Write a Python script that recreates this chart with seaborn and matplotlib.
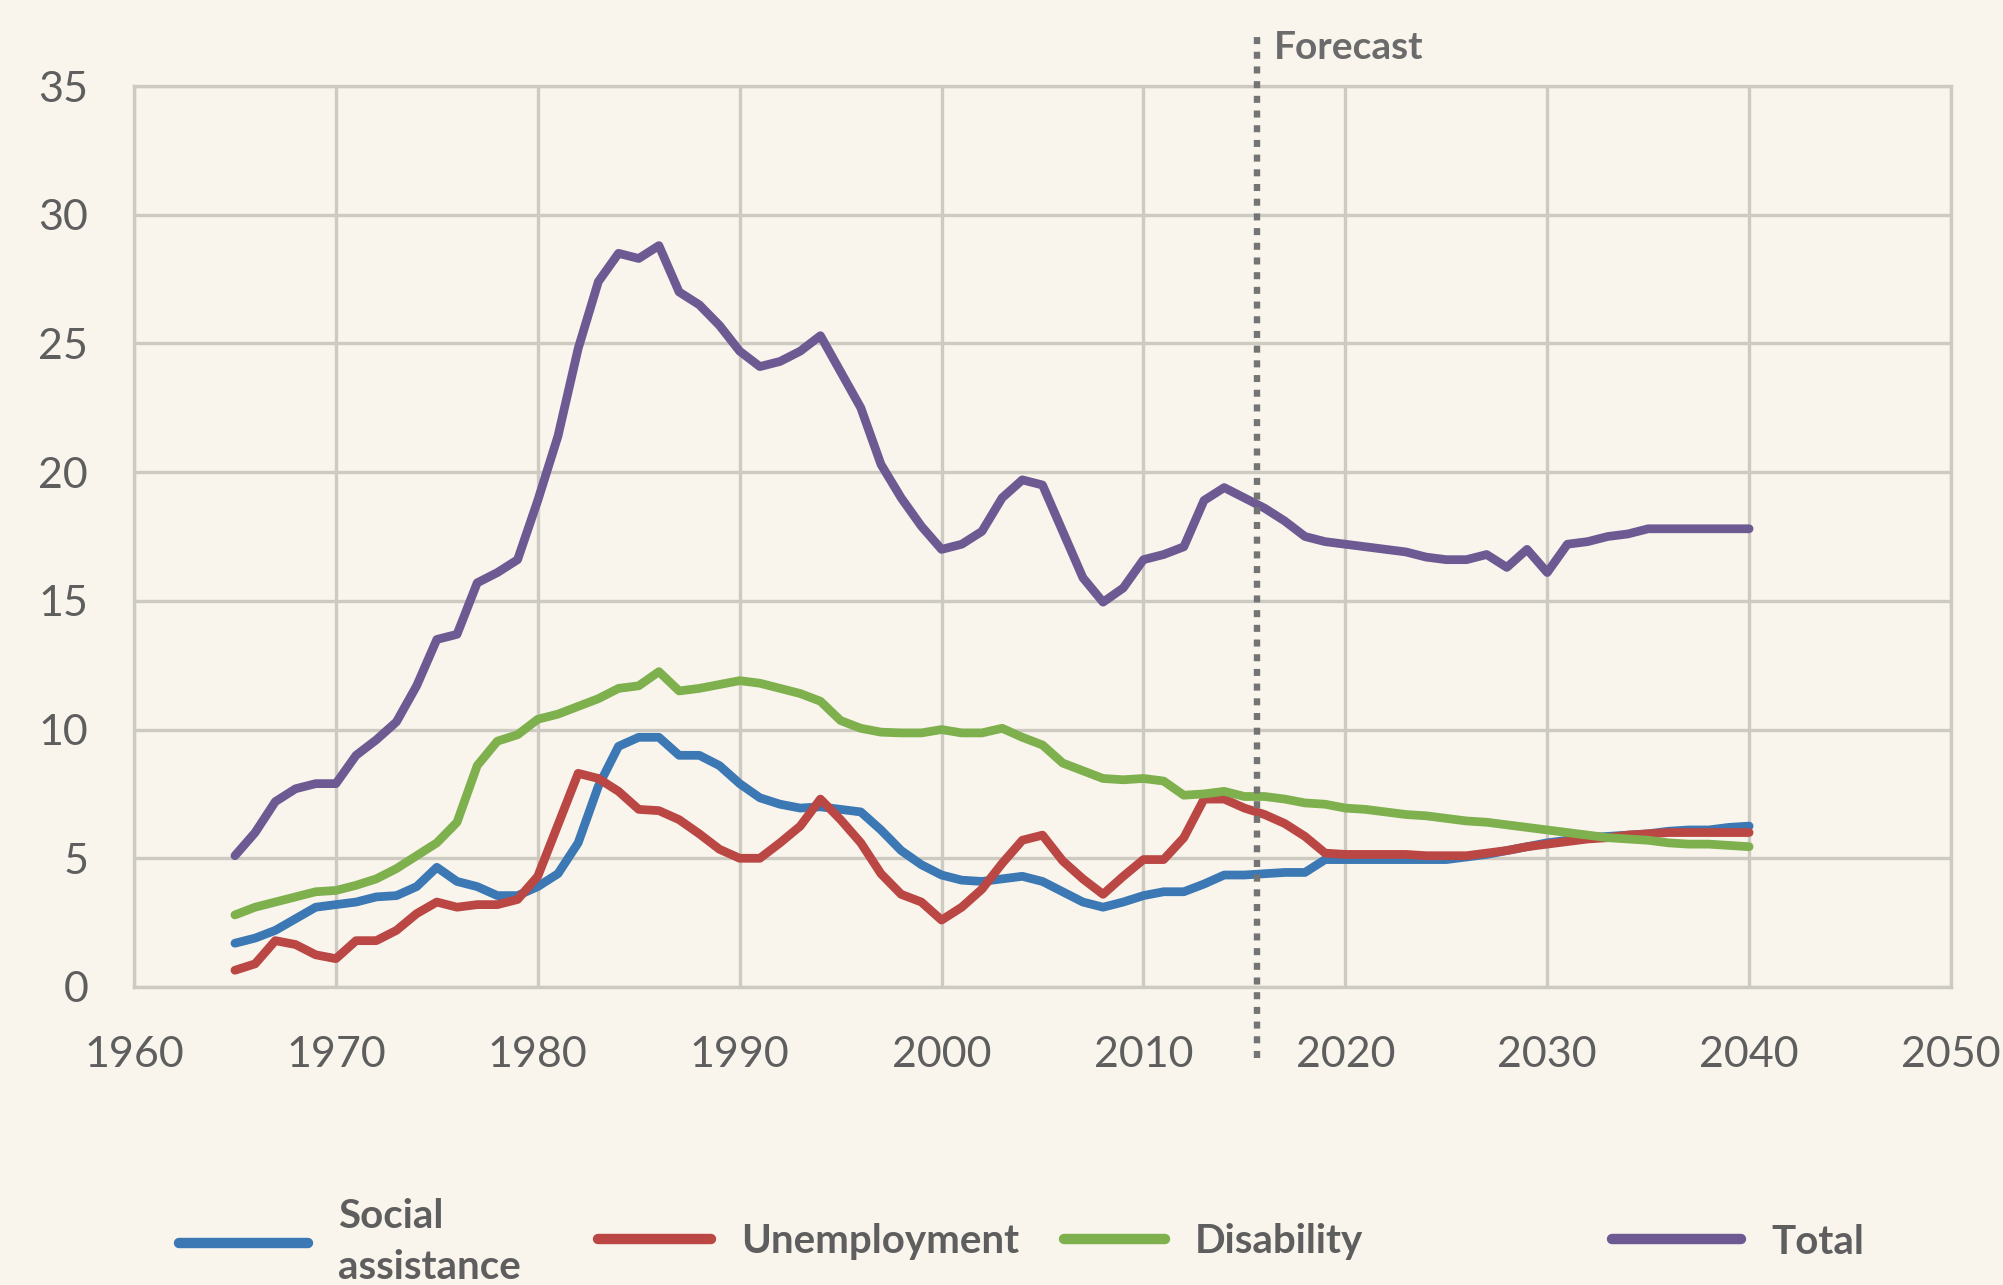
import pandas as pd
import matplotlib
matplotlib.use("Agg")
import matplotlib.pyplot as plt
import seaborn as sns

# data (share of population, %)
years = list(range(1965, 2041))

social = [1.7, 1.9, 2.2, 2.65, 3.1, 3.2,
          3.3, 3.5, 3.55, 3.9, 4.65, 4.1, 3.9, 3.55, 3.55, 3.9,
          4.4, 5.6, 7.8, 9.35, 9.7, 9.7, 9.0, 9.0, 8.6, 7.9,
          7.35, 7.1, 6.95, 7.0, 6.9, 6.8, 6.1, 5.3, 4.75, 4.35,
          4.15, 4.1, 4.2, 4.3, 4.1, 3.7, 3.3, 3.1, 3.3, 3.55,
          3.7, 3.7, 4.0, 4.35, 4.35, 4.4, 4.45, 4.45, 4.95, 4.95,
          4.95, 4.95, 4.95, 4.95, 4.95, 5.05, 5.15, 5.3, 5.45, 5.6,
          5.7, 5.8, 5.85, 5.9, 5.95, 6.05, 6.1, 6.1, 6.2, 6.25]

unemployment = [0.65, 0.9, 1.8, 1.65, 1.25, 1.1,
                1.8, 1.8, 2.2, 2.85, 3.3, 3.1, 3.2, 3.2, 3.4, 4.3,
                6.3, 8.3, 8.1, 7.6, 6.9, 6.85, 6.5, 5.95, 5.35, 5.0,
                5.0, 5.6, 6.25, 7.3, 6.5, 5.6, 4.4, 3.6, 3.3, 2.6,
                3.1, 3.8, 4.8, 5.7, 5.9, 4.9, 4.2, 3.6, 4.3, 4.95,
                4.95, 5.8, 7.3, 7.3, 6.95, 6.7, 6.35, 5.85, 5.2, 5.15,
                5.15, 5.15, 5.15, 5.1, 5.1, 5.1, 5.2, 5.3, 5.45, 5.55,
                5.65, 5.75, 5.8, 5.9, 5.95, 6.0, 6.0, 6.0, 6.0, 6.0]

disability = [2.8, 3.1, 3.3, 3.5, 3.7, 3.75,
              3.95, 4.2, 4.6, 5.1, 5.6, 6.4, 8.6, 9.55, 9.8, 10.4,
              10.6, 10.9, 11.2, 11.6, 11.7, 12.25, 11.5, 11.6, 11.75, 11.9,
              11.8, 11.6, 11.4, 11.1, 10.35, 10.05, 9.9, 9.87, 9.87, 10.0,
              9.87, 9.87, 10.05, 9.7, 9.4, 8.7, 8.4, 8.1, 8.05, 8.1,
              8.0, 7.45, 7.5, 7.6, 7.4, 7.4, 7.3, 7.15, 7.1, 6.95,
              6.9, 6.8, 6.7, 6.65, 6.55, 6.45, 6.4, 6.3, 6.2, 6.1,
              6.0, 5.9, 5.8, 5.75, 5.7, 5.6, 5.55, 5.55, 5.5, 5.45]

total = [5.1, 6.0, 7.2, 7.7, 7.9, 7.9,
         9.0, 9.6, 10.3, 11.7, 13.5, 13.7, 15.7, 16.1, 16.6, 18.9,
         21.4, 24.8, 27.4, 28.5, 28.3, 28.8, 27.0, 26.5, 25.7, 24.7,
         24.1, 24.3, 24.7, 25.3, 23.9, 22.5, 20.3, 19.0, 17.9, 17.0,
         17.2, 17.7, 19.0, 19.7, 19.5, 17.7, 15.9, 14.95, 15.5, 16.6,
         16.8, 17.1, 18.9, 19.4, 19.0, 18.6, 18.1, 17.5, 17.3, 17.2,
         17.1, 17.0, 16.9, 16.7, 16.6, 16.6, 16.8, 16.3, 17.0, 16.1,
         17.2, 17.3, 17.5, 17.6, 17.8, 17.8, 17.8, 17.8, 17.8, 17.8]

series_names = ["Social\nassistance", "Unemployment", "Disability", "Total"]
series_colors = ["#3b78b4", "#bb4744", "#7eb04e", "#6d5a93"]
forecast_year = 2015.6

df = pd.concat([
    pd.DataFrame({"year": years, "value": vals, "series": name})
    for name, vals in zip(series_names, [social, unemployment, disability, total])
])

sns.set_style("white")
plt.rcParams["font.family"] = ["Lato", "DejaVu Sans"]
plt.rcParams["lines.solid_capstyle"] = "round"
plt.rcParams["lines.solid_joinstyle"] = "round"

bg = "#f9f5ed"
grid_col = "#cdcac2"
text_col = "#5e5e5e"

fig = plt.figure(figsize=(20.03, 12.85), dpi=100, facecolor=bg)
ax = fig.add_axes([134 / 2003, 1 - 987 / 1285, (1951 - 134) / 2003, (987 - 86) / 1285])
ax.set_facecolor(bg)

sns.lineplot(data=df, x="year", y="value", hue="series", hue_order=series_names,
             palette=dict(zip(series_names, series_colors)), linewidth=6.3, ax=ax)

ax.set_xlim(1960, 2050)
ax.set_ylim(0, 35)
ax.set_xticks(range(1960, 2051, 10))
ax.set_yticks(range(0, 36, 5))
ax.grid(True, color=grid_col, linewidth=2.4)
ax.set_axisbelow(True)
for s in ax.spines.values():
    s.set_color(grid_col)
    s.set_linewidth(2.4)
ax.tick_params(length=0, labelsize=31, colors=text_col)
ax.tick_params(axis="y", pad=33)
ax.tick_params(axis="x", pad=35)
ax.set_xlabel("")
ax.set_ylabel("")

# forecast marker
ax.plot([forecast_year, forecast_year], [-2.75, 36.9], color="#747474", lw=4.6,
        linestyle=(0, (1.1, 1.2)), dash_capstyle="butt", clip_on=False, zorder=5)
ax.text(forecast_year + 0.85, 36.5, "Forecast", fontsize=28, fontweight="bold",
        color="#6b6b6b", va="center", ha="left")

# legend, one block per entry like the original
handles, labels = ax.get_legend_handles_labels()
ax.get_legend().remove()
legend_x = [179, 598, 1064, 1612]
handle_len = [3.2, 2.8, 2.5, 3.2]
for h, lab, x, hl in zip(handles, labels, legend_x, handle_len):
    leg = fig.legend([h], [lab], loc="center left", bbox_to_anchor=(x / 2003, 1 - 1242 / 1285),
                     frameon=False, handlelength=hl, handletextpad=0.75,
                     borderpad=0, borderaxespad=0, labelcolor=text_col,
                     prop={"weight": "bold", "size": 29})
    for ln in leg.get_lines():
        ln.set_linewidth(7.5)
    for t in leg.get_texts():
        t.set_linespacing(1.45)

fig.savefig("out.png", dpi=100, facecolor=bg)
